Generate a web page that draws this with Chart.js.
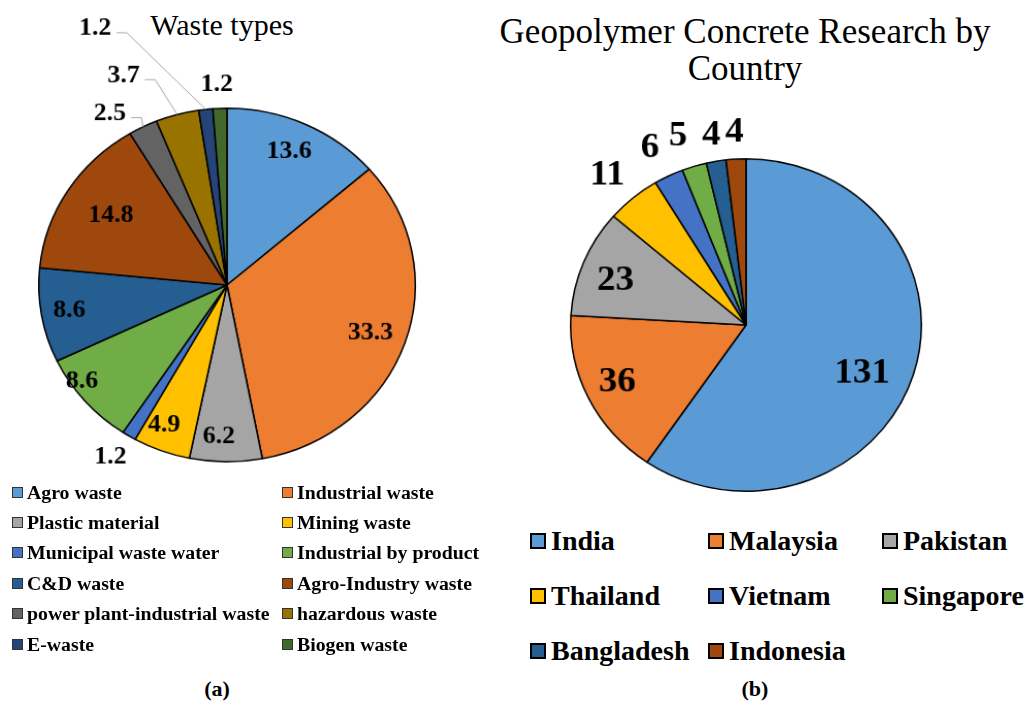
<!DOCTYPE html>
<html>
<head>
<meta charset="utf-8">
<script src="https://cdn.jsdelivr.net/npm/chart.js@4"></script>
<style>
  body { margin: 0; width: 1025px; height: 702px; background: #fff; position: relative; overflow: hidden;
         font-family: "Liberation Serif", "Times New Roman", serif; color: #000; }
  canvas, .title, .legend, .caption { position: absolute; }
  .title { text-align: center; font-weight: normal; }
  .legend { display: grid; font-weight: bold; }
  .legend .item { display: flex; align-items: center; white-space: nowrap; }
  .legend .box { flex: none; box-sizing: border-box; }
  /* both pies are a touch wider than tall */
  #wasteChart { left: 0; top: 0; transform: scale(1.033, 0.97); transform-origin: 227px 285px; }
  #countryChart { left: 480px; top: 100px; transform: scale(1.03, 0.976); transform-origin: 266px 225px; }
  #legendA { left: 12px; top: 477px; grid-template-columns: 270px 240px; grid-auto-rows: 30.4px; font-size: 19.8px; }
  #legendA .box { width: 11px; height: 11px; border: 1px solid #333; margin-right: 4px; }
  #legendB { left: 530px; top: 513px; grid-template-columns: 178px 174px 150px; grid-auto-rows: 55px; font-size: 28px; }
  #legendB .box { width: 16px; height: 16px; border: 2px solid #000; margin-right: 5px; }
  .caption { font-weight: bold; font-size: 22px; width: 60px; text-align: center; top: 676px; }
</style>
</head>
<body>
<div class="title" style="left:122px; top:7px; width:200px; font-size:30px; line-height:36px;">Waste types</div>
<div class="title" style="left:475px; top:13px; width:540px; font-size:35px; line-height:37px;">Geopolymer Concrete Research by<br>Country</div>
<canvas id="wasteChart" width="460" height="470"></canvas>
<canvas id="countryChart" width="545" height="410"></canvas>
<div class="legend" id="legendA"></div>
<div class="legend" id="legendB"></div>
<div class="caption" style="left:187px;">(a)</div>
<div class="caption" style="left:725px;">(b)</div>
<script>
// waste types (%)
const wasteTypes = ["Agro waste", "Industrial waste", "Plastic material", "Mining waste",
  "Municipal waste water", "Industrial by product", "C&D waste", "Agro-Industry waste",
  "power plant-industrial waste", "hazardous waste", "E-waste", "Biogen waste"];
const wasteShares = [13.6, 33.3, 6.2, 4.9, 1.2, 8.6, 8.6, 14.8, 2.5, 3.7, 1.2, 1.2];

// research papers per country
const countries = ["India", "Malaysia", "Pakistan", "Thailand", "Vietnam", "Singapore", "Bangladesh", "Indonesia"];
const paperCounts = [131, 36, 23, 11, 6, 5, 4, 4];

const officeColours = ["#5B9BD5", "#ED7D31", "#A5A5A5", "#FFC000", "#4472C4", "#70AD47",
  "#255E91", "#9E480E", "#636363", "#997300", "#264478", "#43682B"];

// where each value label sits: f = fraction of the radius along the slice middle
// (da = turn in degrees), or dx/dy = offset from the slice's outer edge,
// optionally with a leader line back to the slice
const wastePlacement = [
  { f: 0.825, da: -1 }, { f: 0.81, da: 0.6 }, { f: 0.86, da: 2.5 }, { f: 0.86, da: 2.5 },
  { dx: -18, dy: 22 }, { f: 0.945, da: 5.6 }, { f: 0.85 }, { f: 0.73 },
  { dx: -32, dy: -13.5, leader: true }, { dx: -52, dy: -40, leader: true },
  { dx: -107, dy: -83, leader: true }, { dx: -3, dy: -24 }
];
const countryPlacement = [
  { f: 0.725, da: 6.8 }, { f: 0.81, da: 1.2 }, { f: 0.79, da: -2.6 }, { f: 1.2, da: -1.2 },
  { f: 1.2, da: -1 }, { f: 1.2, da: -1.7 }, { f: 1.16 }, { f: 1.16 }
];

const sliceLabels = {
  id: "sliceLabels",
  afterDatasetsDraw(chart, args, opts) {
    const ctx = chart.ctx;
    const values = chart.data.datasets[0].data;
    ctx.save();
    ctx.font = opts.font;
    ctx.textAlign = "center";
    ctx.textBaseline = "middle";
    chart.getDatasetMeta(0).data.forEach(function (arc, i) {
      const p = arc.getProps(["x", "y", "startAngle", "endAngle", "outerRadius"], true);
      const mid = (p.startAngle + p.endAngle) / 2;
      const place = opts.place[i];
      const text = values[i].toFixed(opts.decimals);
      const ex = p.x + Math.cos(mid) * p.outerRadius;
      const ey = p.y + Math.sin(mid) * p.outerRadius;
      let lx, ly;
      if (place.dx !== undefined) {
        lx = ex + place.dx;
        ly = ey + place.dy;
      } else {
        const a = mid + (place.da || 0) * Math.PI / 180;
        lx = p.x + Math.cos(a) * p.outerRadius * place.f;
        ly = p.y + Math.sin(a) * p.outerRadius * place.f;
      }
      if (place.leader) {
        const hx = lx + ctx.measureText(text).width / 2 + 5;
        const hy = ly + 4;
        ctx.strokeStyle = "#A6A6A6";
        ctx.lineWidth = 1;
        ctx.beginPath();
        ctx.moveTo(hx, hy);
        ctx.lineTo(hx + 10, hy);
        ctx.lineTo(ex, ey);
        ctx.stroke();
      }
      ctx.fillStyle = "#000";
      ctx.fillText(text, lx, ly);
    });
    ctx.restore();
  }
};

function makePie(id, labels, values, padding, labelOpts) {
  return new Chart(document.getElementById(id), {
    type: "pie",
    data: {
      labels: labels,
      datasets: [{
        data: values,
        backgroundColor: officeColours.slice(0, values.length),
        borderColor: "#000",
        borderWidth: 1.5
      }]
    },
    options: {
      responsive: false,
      animation: false,
      events: [],
      layout: { padding: padding },
      plugins: {
        legend: { display: false },
        tooltip: { enabled: false },
        sliceLabels: labelOpts
      }
    },
    plugins: [sliceLabels]
  });
}

function buildLegend(chart, el) {
  const ds = chart.data.datasets[0];
  chart.data.labels.forEach(function (name, i) {
    const item = document.createElement("div");
    item.className = "item";
    const box = document.createElement("span");
    box.className = "box";
    box.style.background = ds.backgroundColor[i];
    item.appendChild(box);
    item.appendChild(document.createTextNode(name));
    el.appendChild(item);
  });
}

const wasteChart = makePie("wasteChart", wasteTypes, wasteShares,
  { left: 44, top: 102, right: 50, bottom: 2 },
  { font: "bold 25px 'Liberation Serif'", decimals: 1, place: wastePlacement });
const countryChart = makePie("countryChart", countries, paperCounts,
  { left: 95, top: 54, right: 108, bottom: 14 },
  { font: "bold 36px 'Liberation Serif'", decimals: 0, place: countryPlacement });

buildLegend(wasteChart, document.getElementById("legendA"));
buildLegend(countryChart, document.getElementById("legendB"));
</script>
</body>
</html>
